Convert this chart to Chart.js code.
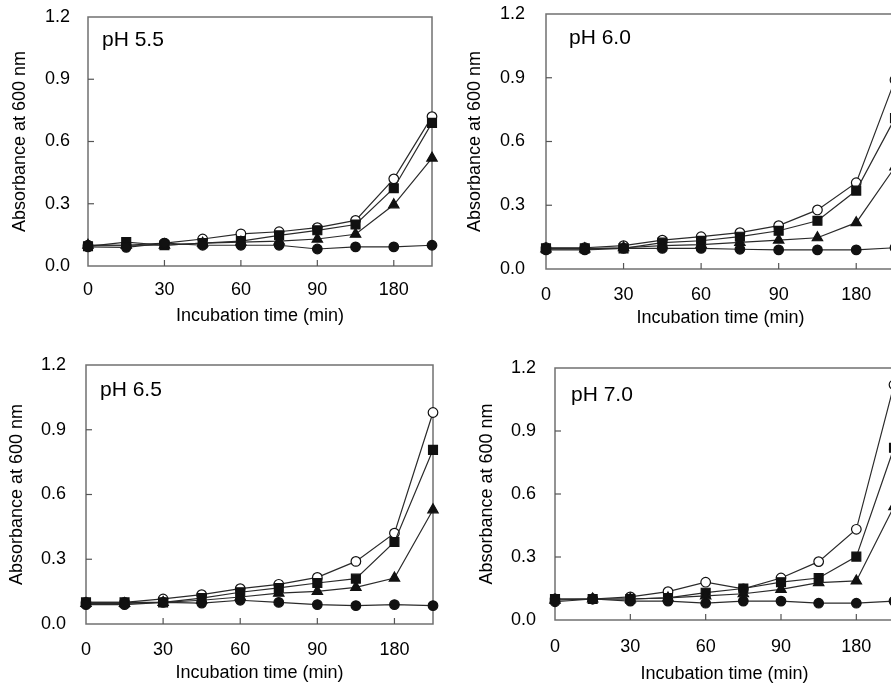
<!DOCTYPE html>
<html>
<head>
<meta charset="utf-8">
<script src="https://cdn.jsdelivr.net/npm/chart.js@4.4.0/dist/chart.umd.min.js"></script>
<style>
  html, body { margin: 0; padding: 0; background: #fff; overflow: hidden; width: 891px; height: 686px; }
  .panel { position: absolute; }
</style>
</head>
<body>
<div class="panel" id="p1" style="left:0px;top:0px;width:445px;height:343px"><canvas id="c1"></canvas></div>
<div class="panel" id="p2" style="left:445px;top:0px;width:470px;height:343px"><canvas id="c2"></canvas></div>
<div class="panel" id="p3" style="left:0px;top:343px;width:445px;height:343px"><canvas id="c3"></canvas></div>
<div class="panel" id="p4" style="left:445px;top:343px;width:470px;height:343px"><canvas id="c4"></canvas></div>
<script>
// x categories (only every second one is labelled in the figure)
var timeLabels = ['0', '', '30', '', '60', '', '90', '', '180', ''];
var panelTitles = ['pH 5.5', 'pH 6.0', 'pH 6.5', 'pH 7.0'];

// pH 5.5
var open55   = [0.10, 0.10, 0.11, 0.13, 0.155, 0.165, 0.185, 0.22, 0.42, 0.72];
var square55 = [0.095, 0.115, 0.10, 0.11, 0.12, 0.148, 0.172, 0.20, 0.375, 0.69];
var tri55    = [0.10, 0.10, 0.10, 0.11, 0.115, 0.12, 0.13, 0.153, 0.295, 0.52];
var filled55 = [0.092, 0.09, 0.11, 0.10, 0.10, 0.10, 0.082, 0.092, 0.092, 0.10];

// pH 6.0
var open60   = [0.10, 0.10, 0.11, 0.136, 0.152, 0.171, 0.204, 0.278, 0.406, 0.89];
var square60 = [0.097, 0.097, 0.097, 0.124, 0.133, 0.152, 0.18, 0.227, 0.369, 0.71];
var tri60    = [0.095, 0.095, 0.10, 0.11, 0.115, 0.125, 0.136, 0.147, 0.218, 0.48];
var filled60 = [0.09, 0.09, 0.097, 0.097, 0.097, 0.093, 0.09, 0.09, 0.09, 0.10];

// pH 6.5
var open65   = [0.10, 0.10, 0.116, 0.136, 0.164, 0.184, 0.216, 0.29, 0.421, 0.98];
var square65 = [0.10, 0.10, 0.10, 0.12, 0.147, 0.167, 0.19, 0.21, 0.38, 0.807];
var tri65    = [0.095, 0.095, 0.10, 0.11, 0.125, 0.143, 0.151, 0.17, 0.213, 0.529];
var filled65 = [0.09, 0.09, 0.10, 0.097, 0.11, 0.10, 0.09, 0.085, 0.09, 0.085];

// pH 7.0
var open70   = [0.10, 0.10, 0.11, 0.135, 0.18, 0.148, 0.20, 0.278, 0.432, 1.12];
var square70 = [0.10, 0.10, 0.10, 0.105, 0.13, 0.15, 0.18, 0.20, 0.302, 0.82];
var tri70    = [0.095, 0.10, 0.10, 0.105, 0.115, 0.125, 0.146, 0.178, 0.186, 0.54];
var filled70 = [0.087, 0.10, 0.09, 0.09, 0.08, 0.09, 0.09, 0.08, 0.08, 0.09];

var lineColor = '#2a2a2a';
var fontName = "'Liberation Sans', Arial, sans-serif";

var framePlugin = {
  id: 'frame',
  beforeDatasetsDraw: function(chart, args, opts) {
    var ctx = chart.ctx;
    var a = chart.chartArea;
    ctx.save();
    ctx.strokeStyle = '#707070';
    ctx.lineWidth = 1.5;
    ctx.strokeRect(a.left, a.top, a.right - a.left, a.bottom - a.top);
    // inward tick marks
    ctx.strokeStyle = '#555';
    ctx.lineWidth = 1.2;
    var xs = chart.scales.x;
    for (var i = 0; i < timeLabels.length; i++) {
      if (timeLabels[i] === '' || i === 0) continue;
      var px = xs.getPixelForTick(i);
      ctx.beginPath();
      ctx.moveTo(px, a.bottom);
      ctx.lineTo(px, a.bottom - 6);
      ctx.stroke();
    }
    var ys = chart.scales.y;
    for (var j = 1; j < ys.ticks.length - 1; j++) {
      var py = ys.getPixelForTick(j);
      ctx.beginPath();
      ctx.moveTo(a.left, py);
      ctx.lineTo(a.left + 6, py);
      ctx.stroke();
    }
    // pH label
    ctx.fillStyle = '#000';
    ctx.font = '21px ' + fontName;
    ctx.textBaseline = 'middle';
    ctx.textAlign = 'left';
    ctx.fillText(opts.text, a.left + opts.dx, a.top + opts.dy);
    ctx.restore();
  }
};

function series(data, style, fill, radius) {
  return {
    data: data,
    borderColor: lineColor,
    borderWidth: 1.2,
    pointStyle: style,
    pointRadius: radius,
    pointBackgroundColor: fill,
    pointBorderColor: '#111',
    pointBorderWidth: 1.2,
    tension: 0,
    clip: false
  };
}

var drawPanel = function(idx, sets, lay) {
  var ctx = document.getElementById('c' + idx).getContext('2d');
  var myChart = new Chart(ctx, {
    type: 'line',
    data: {
      labels: timeLabels,
      datasets: [
        series(sets[3], 'circle', '#111', 4.8),
        series(sets[2], 'triangle', '#111', 6),
        series(sets[1], 'rect', '#111', 6.3),
        series(sets[0], 'circle', '#fff', 4.8)
      ]
    },
    options: {
      responsive: true,
      maintainAspectRatio: false,
      animation: false,
      layout: { padding: lay.pad },
      plugins: {
        legend: { display: false },
        tooltip: { enabled: false },
        frame: { text: panelTitles[idx - 1], dx: lay.label[0], dy: lay.label[1] }
      },
      scales: {
        x: {
          type: 'category',
          offset: false,
          grid: { display: false, drawTicks: false },
          border: { display: false },
          ticks: {
            autoSkip: false,
            maxRotation: 0,
            padding: lay.xTickPad,
            color: '#000',
            font: { family: fontName, size: 18 }
          },
          title: {
            display: true,
            text: 'Incubation time (min)',
            color: '#000',
            padding: { top: 0, bottom: 0 },
            font: { family: fontName, size: 18 }
          },
          afterFit: function(scale) {
            scale.height = lay.xH;
            scale.paddingLeft = 0;
            scale.paddingRight = 0;
          }
        },
        y: {
          min: 0,
          max: 1.2,
          grid: { display: false, drawTicks: false },
          border: { display: false },
          ticks: {
            stepSize: 0.3,
            padding: lay.yTickPad,
            color: '#000',
            font: { family: fontName, size: 18 },
            callback: function(v) { return v.toFixed(1); }
          },
          title: {
            display: true,
            text: 'Absorbance at 600 nm',
            color: '#000',
            padding: { top: lay.yTitlePad, bottom: 0 },
            font: { family: fontName, size: 18 }
          },
          afterFit: function(scale) {
            scale.width = lay.yW;
            scale.paddingTop = 0;
            scale.paddingBottom = 0;
          }
        }
      }
    },
    plugins: [framePlugin]
  });
  return myChart;
};

drawPanel(1, [open55, square55, tri55, filled55],
  { pad: { top: 17, right: 13, bottom: 16, left: 0 }, yW: 88, xH: 61, yTickPad: 18, yTitlePad: 9, xTickPad: 13, label: [14, 23] });
drawPanel(2, [open60, square60, tri60, filled60],
  { pad: { top: 14, right: 20, bottom: 14, left: 0 }, yW: 101, xH: 60, yTickPad: 21, yTitlePad: 19, xTickPad: 15, label: [23, 24] });
drawPanel(3, [open65, square65, tri65, filled65],
  { pad: { top: 22, right: 12, bottom: 2, left: 0 }, yW: 86, xH: 60, yTickPad: 20, yTitlePad: 6, xTickPad: 15, label: [14, 25] });
drawPanel(4, [open70, square70, tri70, filled70],
  { pad: { top: 25, right: 21, bottom: 1, left: 0 }, yW: 110, xH: 65, yTickPad: 19, yTitlePad: 31, xTickPad: 16, label: [16, 27] });
</script>
</body>
</html>
